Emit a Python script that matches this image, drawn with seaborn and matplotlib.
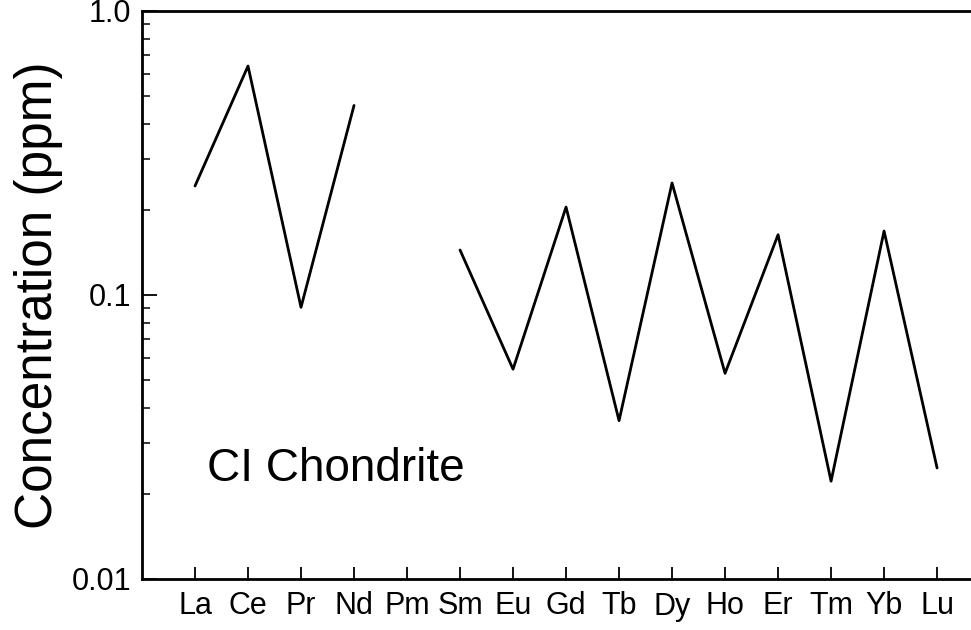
import numpy as np
import pandas as pd
import matplotlib
matplotlib.use("Agg")
import matplotlib.pyplot as plt
import matplotlib.ticker as mticker
import seaborn as sns

elements = ["La", "Ce", "Pr", "Nd", "Pm", "Sm", "Eu", "Gd", "Tb", "Dy", "Ho", "Er", "Tm", "Yb", "Lu"]
concentration = [0.242, 0.64, 0.0905, 0.465, np.nan, 0.144, 0.0548, 0.204, 0.0361,
                 0.248, 0.0530, 0.163, 0.0221, 0.168, 0.0246]
label_text = "CI Chondrite"
y_ticks = [0.01, 0.1, 1.0]
y_tick_labels = ["0.01", "0.1", "1.0"]

sns.set_style("ticks")
plt.rcParams["font.family"] = ["Liberation Sans", "DejaVu Sans"]
plt.rcParams["text.color"] = "black"
plt.rcParams["axes.labelcolor"] = "black"

pos = np.arange(len(elements))
conc = np.array(concentration, dtype=float)
# segment id so the line breaks at the missing value (Pm)
seg = np.cumsum(np.isnan(conc))
df = pd.DataFrame({"pos": pos, "conc": conc, "seg": seg}).dropna()

fig = plt.figure(figsize=(9.71, 6.3), dpi=100)
ax = fig.add_axes([142 / 971, (630 - 579) / 630, 1 - 142 / 971, (579 - 11) / 630])

sns.lineplot(data=df, x="pos", y="conc", units="seg", estimator=None,
             color="black", linewidth=2.0, ax=ax, legend=False)

ax.set_yscale("log")
ax.set_ylim(0.01, 1.0)
ax.set_xlim(-1, 14.64)
ax.set_yticks(y_ticks)
ax.set_yticklabels(y_tick_labels)
ax.yaxis.set_minor_locator(mticker.LogLocator(base=10, subs=np.arange(2, 10)))
ax.yaxis.set_minor_formatter(mticker.NullFormatter())
ax.set_xticks(pos)
ax.set_xticklabels(elements)

ax.tick_params(axis="both", which="major", direction="in", labelsize=22,
               width=1.3, colors="black")
ax.tick_params(axis="y", which="major", length=11, pad=8)
ax.tick_params(axis="y", which="minor", direction="in", length=6, width=1.3)
ax.tick_params(axis="x", which="major", length=9, pad=9)

for side in ["left", "bottom", "top"]:
    ax.spines[side].set_linewidth(2.0)
    ax.spines[side].set_color("black")
ax.spines["right"].set_visible(False)

ax.set_xlabel("")
ax.set_ylabel("Concentration (ppm)", fontsize=37, labelpad=6)

ax.text(0.22, 0.0221, label_text, fontsize=33, ha="left", va="baseline")

fig.savefig("out.png", dpi=100)
